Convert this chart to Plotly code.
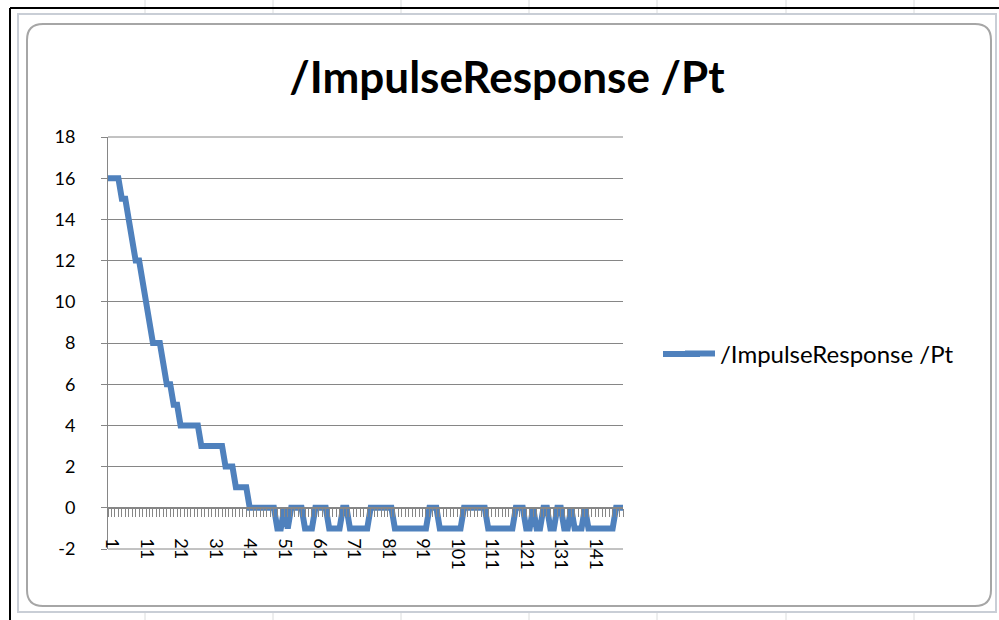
import plotly.graph_objects as go

# ---- data ----
categories = list(range(1, 151))
values = [
    16, 16, 16, 16, 15, 15, 14, 13, 12, 12,          # 1-10
    11, 10, 9, 8, 8, 8, 7, 6, 6, 5,                  # 11-20
    5, 4, 4, 4, 4, 4, 4, 3, 3, 3,                    # 21-30
    3, 3, 3, 3, 2, 2, 2, 1, 1, 1,                    # 31-40
    1, 0, 0, 0, 0, 0, 0, 0, 0, -1,                   # 41-50
    -1, 0, -1, 0, 0, 0, 0, -1, -1, -1,               # 51-60
    0, 0, 0, 0, -1, -1, -1, -1, 0, 0,                # 61-70
    -1, -1, -1, -1, -1, -1, 0, 0, 0, 0,              # 71-80
    0, 0, 0, -1, -1, -1, -1, -1, -1, -1,             # 81-90
    -1, -1, -1, 0, 0, 0, -1, -1, -1, -1,             # 91-100
    -1, -1, -1, 0, 0, 0, 0, 0, 0, 0,                 # 101-110
    -1, -1, -1, -1, -1, -1, -1, -1, 0, 0,            # 111-120
    0, -1, -1, 0, -1, -1, 0, 0, -1, -1,              # 121-130
    0, 0, -1, -1, 0, -1, -1, -1, 0, -1,              # 131-140
    -1, -1, -1, -1, -1, -1, -1, 0, 0, 0,             # 141-150
]
x_tick_labels = list(range(1, 151, 10))
y_ticks = list(range(-2, 19, 2))
series_name = "/ImpulseResponse /Pt"
title_text = "/ImpulseResponse /Pt"

# ---- layout geometry (pixels) ----
W, H = 999, 620
L, R, T, B = 108, 623, 137, 549


def px(x):
    return (x - L) / (R - L)


def py(y):
    return (B - y) / (B - T)


FONT = "Lato, 'Open Sans', sans-serif"
GRID = "#868686"
BLUE = "#4F81BD"
LW = 6

fig = go.Figure()
fig.add_trace(go.Scatter(
    x=categories, y=values, mode="lines", name=series_name,
    line=dict(color=BLUE, width=LW),
))

# rounded chart-area path
x0, y0, x1, y1, r = 27, 24, 991, 606, 16


def rr_path(x0, y0, x1, y1, r):
    return (f"M {px(x0 + r)} {py(y0)} L {px(x1 - r)} {py(y0)} "
            f"Q {px(x1)} {py(y0)} {px(x1)} {py(y0 + r)} "
            f"L {px(x1)} {py(y1 - r)} Q {px(x1)} {py(y1)} {px(x1 - r)} {py(y1)} "
            f"L {px(x0 + r)} {py(y1)} Q {px(x0)} {py(y1)} {px(x0)} {py(y1 - r)} "
            f"L {px(x0)} {py(y0 + r)} Q {px(x0)} {py(y0)} {px(x0 + r)} {py(y0)} Z")


shapes = []
# spreadsheet cell grid lines (background)
for gx in [145, 273, 401, 529, 657, 786, 914]:
    shapes.append(dict(type="line", xref="paper", yref="paper", layer="below",
                       x0=px(gx), x1=px(gx), y0=py(0), y1=py(H),
                       line=dict(color="#DADCDD", width=1)))
# chart object frame
shapes.append(dict(type="rect", xref="paper", yref="paper", layer="below",
                   x0=px(18), x1=px(996), y0=py(14), y1=py(612),
                   line=dict(color="#C9CED6", width=2), fillcolor="white"))
# chart area rounded border
shapes.append(dict(type="path", xref="paper", yref="paper", layer="below",
                   path=rr_path(x0, y0, x1, y1, r),
                   line=dict(color="#A6A6A6", width=2), fillcolor="white"))
# edge gridlines at the bottom and top of the plot area
for yp in (0, 1):
    shapes.append(dict(type="line", xref="paper", yref="paper", layer="below",
                       x0=0, x1=1, y0=yp, y1=yp,
                       line=dict(color=GRID, width=1)))
# black selection border lines (top and left)
shapes.append(dict(type="line", xref="paper", yref="paper", layer="above",
                   x0=px(10), x1=px(999), y0=py(8), y1=py(8),
                   line=dict(color="black", width=2)))
shapes.append(dict(type="line", xref="paper", yref="paper", layer="above",
                   x0=px(10), x1=px(10), y0=py(8), y1=py(620),
                   line=dict(color="black", width=2)))
# extension of the legend line sample (Excel draws a longer key line)
shapes.append(dict(type="line", xref="paper", yref="paper", layer="above",
                   x0=px(663), x1=px(700), y0=py(354), y1=py(354),
                   line=dict(color=BLUE, width=LW)))

fig.update_layout(
    width=W, height=H,
    margin=dict(l=L, r=W - R, t=T, b=H - B),
    paper_bgcolor="white", plot_bgcolor="rgba(0,0,0,0)",
    font=dict(family=FONT, color="black", size=17),
    title=dict(text=title_text, x=507 / W, xref="container", xanchor="center",
               y=1 - 78 / H, yref="container", yanchor="middle",
               font=dict(family=FONT, size=44, color="black", weight="bold")),
    showlegend=True,
    legend=dict(x=px(680), xanchor="left", y=py(354), yanchor="middle",
                font=dict(family=FONT, size=24, color="black"),
                bgcolor="rgba(0,0,0,0)", borderwidth=0),
    shapes=shapes,
)

fig.update_yaxes(
    range=[-2, 18], tickvals=y_ticks, ticktext=[str(v) for v in y_ticks],
    showgrid=True, gridcolor=GRID, gridwidth=1, zeroline=False,
    showline=True, linecolor=GRID, linewidth=1,
    ticks="outside", ticklen=6, tickcolor=GRID,
    ticklabelstandoff=22, tickfont=dict(size=18),
)

fig.update_xaxes(
    range=[1, 150], anchor="free", position=py(508),
    tickvals=x_tick_labels, ticktext=[str(v) for v in x_tick_labels],
    tickangle=90, tickfont=dict(size=18), ticklabelshift=4,
    showgrid=False, zeroline=False,
    showline=True, linecolor=GRID, linewidth=1.5,
    ticks="outside", ticklen=8, tickcolor=GRID,
    minor=dict(ticks="outside", tick0=1, dtick=1, ticklen=8, tickcolor=GRID, showgrid=False),
    ticklabelstandoff=18,
)

fig.write_html("out.html", config={"displayModeBar": False},
               post_script="document.body.style.margin='0';document.body.style.overflow='hidden';")
